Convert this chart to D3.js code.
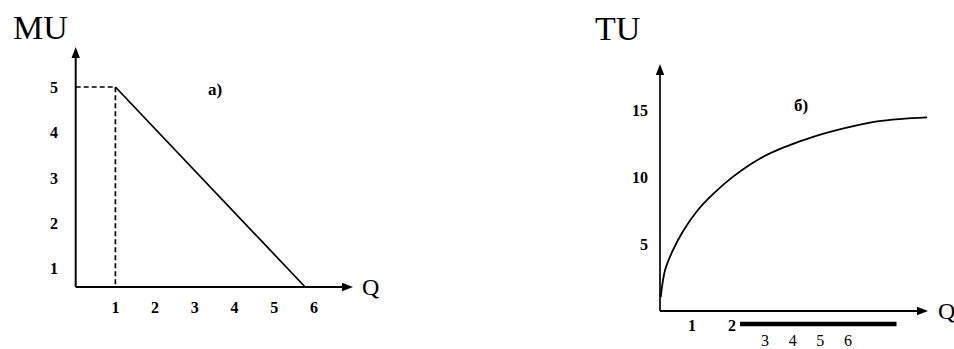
<!DOCTYPE html>
<html>
<head>
<meta charset="utf-8">
<script src="https://cdn.jsdelivr.net/npm/d3@7"></script>
<style>
  html, body { margin: 0; padding: 0; background: #fff; }
  svg { display: block; }
  text { font-family: "Liberation Serif", "Times New Roman", serif; fill: #000; }
</style>
</head>
<body>
<svg id="chart" width="954" height="349"></svg>
<script>
// ---- data: marginal utility (a) ----
const muTicksX = [1, 2, 3, 4, 5, 6];
const muTicksY = [1, 2, 3, 4, 5];
const muQ = [1, 5.78];
const muValues = [5, 0.6];
const muPeak = { q: 1, mu: 5 };

// ---- data: total utility (б) ----
const tuTicksY = [5, 10, 15];
const tuTicksXRow1 = [1, 2];
const tuTicksXRow2 = ["3", "4", "5", "6"];
const tuQ = [0.02, 0.14, 0.36, 0.64, 1.03, 1.47, 2.03, 2.78, 3.42, 4.36, 5.28, 6.03, 6.67, 7.42];
const tuValues = [1.1, 3.1, 4.6, 6.0, 7.5, 8.75, 10.05, 11.4, 12.2, 13.1, 13.75, 14.15, 14.33, 14.45];

const svg = d3.select("#chart");

function arrowHead(g, x, y, dir) {
  // filled triangle pointing up ("up") or right ("right")
  const L = 11, W = 4.2;
  const pts = dir === "up"
    ? [[x, y], [x - W, y + L], [x + W, y + L]]
    : [[x, y], [x - L, y - W], [x - L, y + W]];
  g.append("path").attr("d", "M" + pts.map(p => p.join(",")).join("L") + "Z").attr("fill", "#000");
}

// ================= panel a) MU =================
{
  const g = svg.append("g");
  const x = d3.scaleLinear().domain([0, 6]).range([75.7, 313.9]);
  const y = d3.scaleLinear().domain([0.6, 5]).range([287, 87]);
  const x0 = x(0), y0 = y(0.6);

  // axes
  g.append("line").attr("x1", x0).attr("y1", y0).attr("x2", x0).attr("y2", 56)
    .attr("stroke", "#000").attr("stroke-width", 2);
  arrowHead(g, x0, 47, "up");
  g.append("line").attr("x1", x0).attr("y1", y0).attr("x2", 343).attr("y2", y0)
    .attr("stroke", "#000").attr("stroke-width", 2);
  arrowHead(g, 353, y0, "right");

  // tick labels
  g.selectAll("text.ty").data(muTicksY).join("text").attr("class", "ty")
    .attr("x", 58).attr("y", d => y(d)).attr("dy", "0.35em")
    .attr("text-anchor", "end").attr("font-size", 16).attr("font-weight", "bold")
    .text(d => d);
  g.selectAll("text.tx").data(muTicksX).join("text").attr("class", "tx")
    .attr("x", d => x(d)).attr("y", 307).attr("dy", "0.35em")
    .attr("text-anchor", "middle").attr("font-size", 16).attr("font-weight", "bold")
    .text(d => d);

  // dashed guides to the peak point
  g.append("path")
    .attr("d", `M${x0},${y(muPeak.mu)}H${x(muPeak.q)}V${y0}`)
    .attr("fill", "none").attr("stroke", "#000").attr("stroke-width", 1.7)
    .attr("stroke-dasharray", "5,3");

  // MU line
  const line = d3.line().x((d, i) => x(muQ[i])).y(d => y(d));
  g.append("path").datum(muValues).attr("d", line)
    .attr("fill", "none").attr("stroke", "#000").attr("stroke-width", 1.7);

  // labels
  g.append("text").attr("x", 13).attr("y", 39).attr("font-size", 34).text("MU");
  g.append("text").attr("x", 362).attr("y", 287).attr("dy", "0.35em").attr("font-size", 24).text("Q");
  g.append("text").attr("x", 215).attr("y", 89).attr("dy", "0.35em")
    .attr("text-anchor", "middle").attr("font-size", 17).attr("font-weight", "bold").text("a)");
}

// ================= panel б) TU =================
{
  const g = svg.append("g");
  const x = d3.scaleLinear().domain([0, 7.5]).range([660, 930]);
  const y = d3.scaleLinear().domain([0, 15]).range([312, 110]);
  const x0 = x(0), y0 = y(0) - 1;

  g.append("line").attr("x1", x0).attr("y1", y0).attr("x2", x0).attr("y2", 72)
    .attr("stroke", "#000").attr("stroke-width", 1.7);
  arrowHead(g, x0, 64, "up");
  g.append("line").attr("x1", x0).attr("y1", y0).attr("x2", 918).attr("y2", y0)
    .attr("stroke", "#000").attr("stroke-width", 2);
  arrowHead(g, 928, y0, "right");

  g.selectAll("text.ty").data(tuTicksY).join("text").attr("class", "ty")
    .attr("x", 648).attr("y", d => y(d)).attr("dy", "0.35em")
    .attr("text-anchor", "end").attr("font-size", 16).attr("font-weight", "bold")
    .text(d => d);

  g.selectAll("text.tx1").data(tuTicksXRow1).join("text").attr("class", "tx1")
    .attr("x", (d, i) => x(d) - (i === 0 ? 4 : 0)).attr("y", 325).attr("dy", "0.35em")
    .attr("text-anchor", "middle").attr("font-size", 16).attr("font-weight", "bold")
    .text(d => d);

  // heavy rule after "2"
  g.append("line").attr("x1", x(2.22)).attr("x2", x(6.57)).attr("y1", 324).attr("y2", 324)
    .attr("stroke", "#000").attr("stroke-width", 4.5);

  const row2 = d3.scalePoint().domain(tuTicksXRow2).range([765, 848]);
  g.selectAll("text.tx2").data(tuTicksXRow2).join("text").attr("class", "tx2")
    .attr("x", d => row2(d)).attr("y", 346)
    .attr("text-anchor", "middle").attr("font-size", 16)
    .text(d => d);

  const curve = d3.line().x((d, i) => x(tuQ[i])).y(d => y(d)).curve(d3.curveCatmullRom.alpha(0.5));
  g.append("path").datum(tuValues).attr("d", curve)
    .attr("fill", "none").attr("stroke", "#000").attr("stroke-width", 1.8);

  g.append("text").attr("x", 595).attr("y", 40).attr("font-size", 34).text("TU");
  g.append("text").attr("x", 938).attr("y", y0).attr("dy", "0.35em").attr("font-size", 24).text("Q");
  g.append("text").attr("x", 801).attr("y", 105).attr("dy", "0.35em")
    .attr("text-anchor", "middle").attr("font-size", 17).attr("font-weight", "bold").text("б)");
}
</script>
</body>
</html>
